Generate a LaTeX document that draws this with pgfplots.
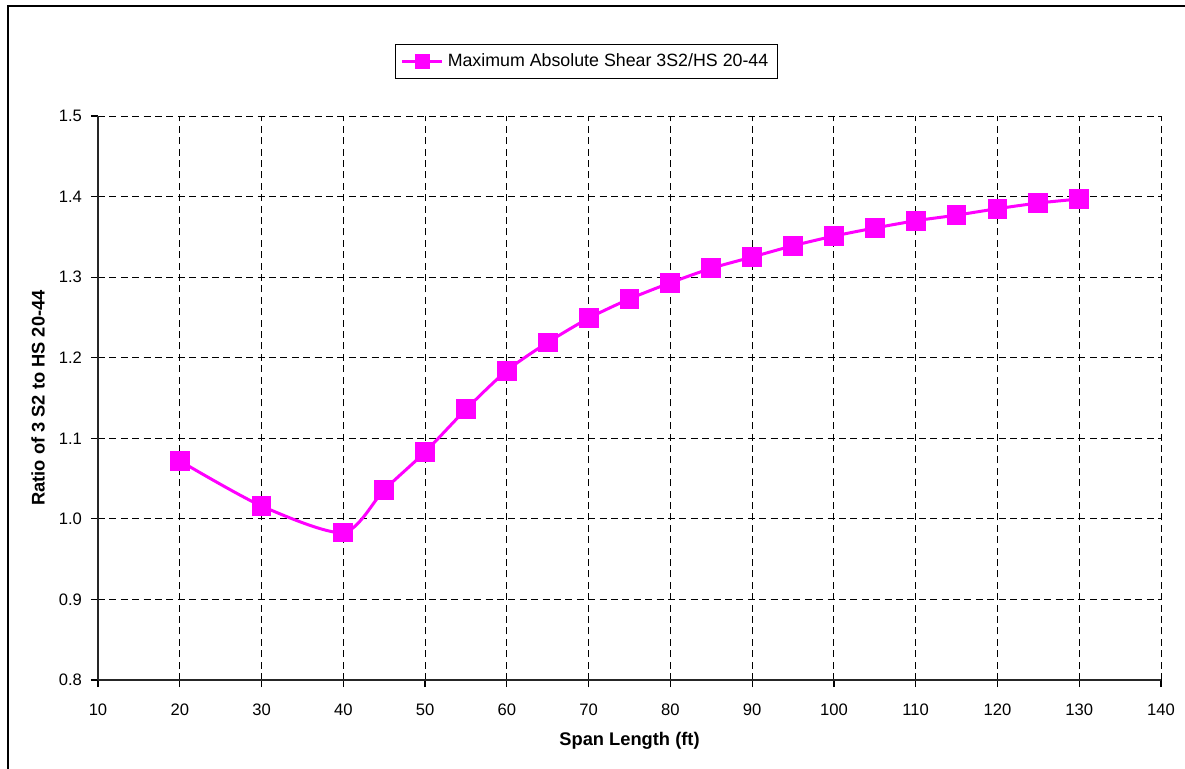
\documentclass[border=0pt]{standalone}
\usepackage{pgfplots}
\pgfplotsset{compat=1.18}
\usepackage{fontspec}
\setmainfont{Liberation Sans}
\definecolor{shearmag}{RGB}{255,0,255}

\pgfplotstableread{
span ratio
20  1.072
30  1.016
40  0.983
45  1.036
50  1.083
55  1.136
60  1.184
65  1.219
70  1.249
75  1.273
80  1.293
85  1.311
90  1.325
95  1.339
100 1.351
105 1.361
110 1.370
115 1.377
120 1.385
125 1.392
130 1.397
}\sheardata

\begin{document}
\begin{tikzpicture}
% page extent and chart-area frame
\useasboundingbox (-49pt,-44pt) rectangle (543.5pt,340pt);
\draw[line width=0.8pt,black] (-45pt,-60pt) -- (-45pt,337pt) -- (600pt,337pt);
\begin{axis}[
  at={(0pt,0pt)}, anchor=south west,
  scale only axis,
  width=531.5pt, height=282pt,
  xmin=10, xmax=140, ymin=0.8, ymax=1.5,
  xtick={10,20,...,140},
  ytick={0.8,0.9,...,1.5},
  yticklabel style={/pgf/number format/fixed,/pgf/number format/fixed zerofill,
    /pgf/number format/precision=1,xshift=-1pt},
  /pgf/number format/assume math mode=true,
  axis x line*=bottom, axis y line*=left,
  axis line style={line width=0.8pt,black!85,-},
  tick align=outside, major tick length=3.5pt,
  tick style={line width=0.6pt,black},
  grid=major,
  major grid style={line width=0.5pt,black,dash pattern=on 3.5pt off 2.2pt},
  tick label style={font=\fontsize{8.3}{9}\selectfont},
  xticklabel style={yshift=-5pt},
  xlabel={\textbf{Span Length (ft)}},
  ylabel={\textbf{Ratio of 3 S2 to HS 20-44}},
  every axis y label/.style={at={(axis description cs:0,0.5)},rotate=90,anchor=center,
    yshift=30pt,font=\fontsize{9.15}{10}\selectfont},
  every axis x label/.style={at={(axis description cs:0.5,0)},anchor=center,
    yshift=-30.5pt,font=\fontsize{9.15}{10}\selectfont},
  legend style={at={(0.4596,1.1277)},anchor=north,draw=black,line width=0.6pt,
    font=\fontsize{8.9}{10}\selectfont,inner sep=2.5pt,row sep=0pt},
  legend cell align=left,
  legend image code/.code={
    \draw[#1,line width=1.5pt] (0pt,0pt) -- (20pt,0pt);
    \draw[#1,mark size=3pt,mark=square*,mark options={solid,fill=shearmag,draw=shearmag}] plot coordinates {(10pt,0pt)};
  },
  clip=false,
]
\addplot[shearmag, line width=1.5pt, smooth, tension=0.45,
  mark=square*, mark size=4.2pt, mark options={fill=shearmag,draw=shearmag}]
  table[x=span,y=ratio]{\sheardata};
\addlegendentry{Maximum Absolute Shear 3S2/HS 20-44}
\end{axis}
\end{tikzpicture}
\end{document}
